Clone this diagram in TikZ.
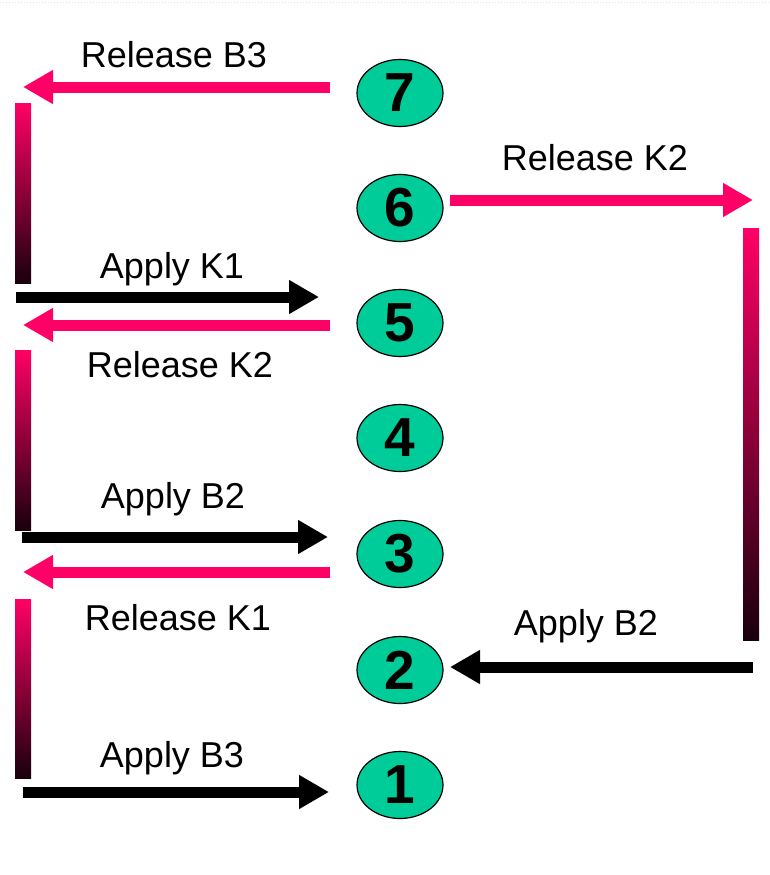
\documentclass[tikz,border=0pt]{standalone}
\usepackage{fontspec}
\setmainfont{Liberation Sans}
\usetikzlibrary{arrows.meta,shapes.geometric}
\definecolor{pinkc}{RGB}{255,0,102}
\definecolor{tealc}{RGB}{0,204,153}
\definecolor{darkc}{RGB}{25,0,12}
\begin{document}
\begin{tikzpicture}[x=1pt,y=-1pt,
  state/.style={ellipse,draw=black,line width=1.2pt,fill=tealc,minimum width=86pt,minimum height=67pt,inner sep=0pt,font=\fontsize{55}{55}\selectfont\bfseries},
  lbl/.style={font=\fontsize{36}{40}\selectfont,inner sep=0pt,anchor=base},
  parrow/.style={draw=pinkc,line width=11pt,-{Triangle[length=30pt,width=32pt]}},
  barrow/.style={draw=black,line width=11pt,-{Triangle[length=30pt,width=32pt]}},
  gbar/.style={top color=pinkc,bottom color=darkc,draw=none}]
\useasboundingbox[fill=white] (0,0) rectangle (769,875);
\draw[black!12,line width=1pt,dotted] (0,3) -- (769,3);
% states
\node[state] (e7) at (400,93) {7};
\node[state] (e6) at (400,208) {6};
\node[state] (e5) at (400,323) {5};
\node[state] (e4) at (400,438) {4};
\node[state] (e3) at (400,554) {3};
\node[state] (e2) at (400,670) {2};
\node[state] (e1) at (400,785) {1};
% coordinates
\coordinate (a7s) at (330,87);  \coordinate (a7e) at (23,87);
\coordinate (k1s) at (16,297);  \coordinate (k1e) at (319,297);
\coordinate (a5s) at (330,325); \coordinate (a5e) at (23,325);
\coordinate (b2s) at (22,537);  \coordinate (b2e) at (328,537);
\coordinate (a3s) at (330,572); \coordinate (a3e) at (23,572);
\coordinate (b3s) at (23,792);  \coordinate (b3e) at (329,792);
\coordinate (r6s) at (450,200); \coordinate (r6e) at (753,200);
\coordinate (r2s) at (753,667); \coordinate (r2e) at (450,667);
% gradient bars
\shade[gbar] (15,103) rectangle (31,283);
\shade[gbar] (15,350) rectangle (31,530);
\shade[gbar] (15,599) rectangle (31,778);
\shade[gbar] (743,228) rectangle (759,640);
% arrows
\draw[parrow] (a7s) -- (a7e);
\draw[barrow] (k1s) -- (k1e);
\draw[parrow] (a5s) -- (a5e);
\draw[barrow] (b2s) -- (b2e);
\draw[parrow] (a3s) -- (a3e);
\draw[barrow] (b3s) -- (b3e);
\draw[parrow] (r6s) -- (r6e);
\draw[barrow] (r2s) -- (r2e);
% labels
\node[lbl] (l1) at (174,67) {Release B3};
\node[lbl] (l2) at (172,278) {Apply K1};
\node[lbl] (l3) at (180,377) {Release K2};
\node[lbl] (l4) at (173,508) {Apply B2};
\node[lbl] (l5) at (178,630) {Release K1};
\node[lbl] (l6) at (172,767) {Apply B3};
\node[lbl] (l7) at (595,170) {Release K2};
\node[lbl] (l8) at (586,635) {Apply B2};
\end{tikzpicture}
\end{document}
